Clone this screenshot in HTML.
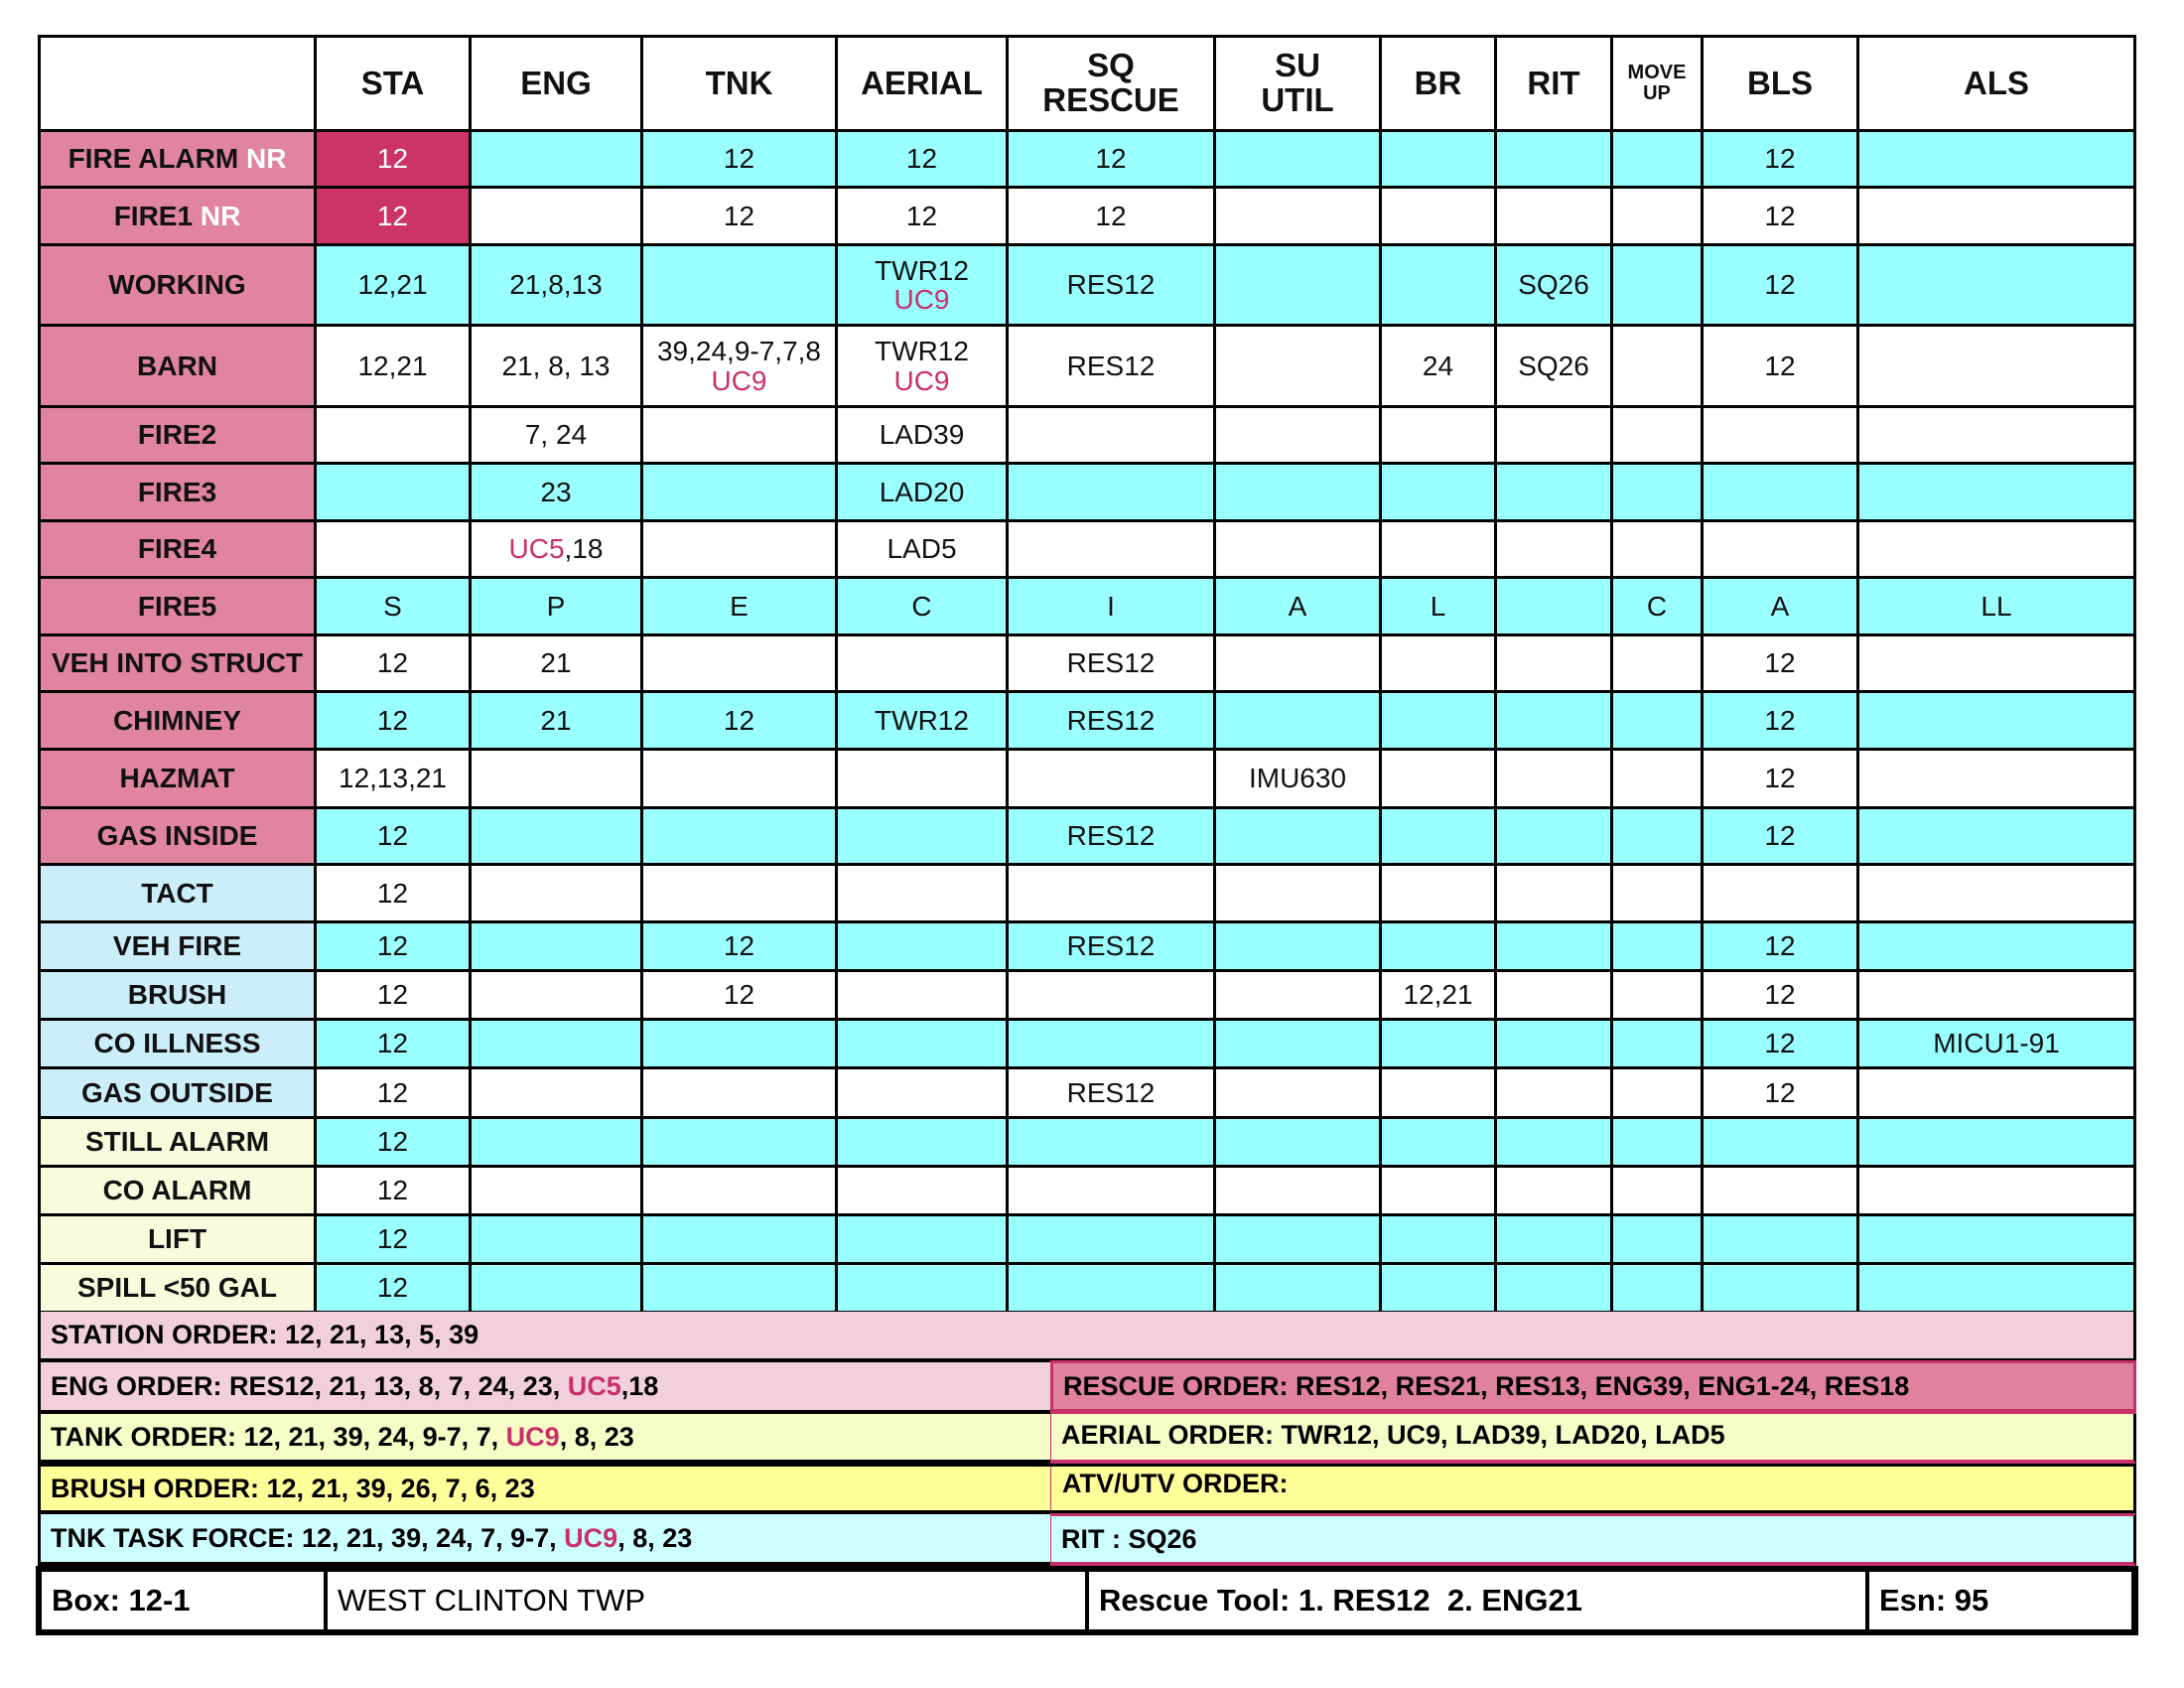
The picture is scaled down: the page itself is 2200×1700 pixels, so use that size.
<!DOCTYPE html>
<html><head><meta charset="utf-8"><style>
body{margin:0;width:2200px;height:1700px;background:#fff;position:relative;font-family:"Liberation Sans",Arial,sans-serif;overflow:hidden}
.g{position:absolute;left:38px;top:35px;display:grid;background:#000;border:3px solid #000;gap:3px;
grid-template-columns:275px 153px 170px 193px 169px 206px 164px 113px 114px 88px 154px 276px;
grid-template-rows:92px 54px 55px 78px 79px 54px 55px 54px 55px 54px 55px 56px 54px 55px 46px 46px 46px 47px 46px 46px 46px 46px;}
.g div{background:#fff;display:flex;align-items:center;justify-content:center;text-align:center;font-size:28px;line-height:1.05;color:#111}
.g div p{margin:0}
.g .h{font-weight:bold;font-size:33px}
.g .c{background:#99ffff}
.g .l{background:#e0849f;font-weight:bold}
.g .b{background:#cceefa;font-weight:bold}
.g .y{background:#fafadc;font-weight:bold}
.g .r{background:#cc3366;color:#fff}
.w{color:#fff}.m{color:#c8306a}
.s{position:absolute;box-sizing:border-box;font-weight:bold;font-size:27px;padding-left:10px;display:flex;align-items:center}
.f{position:absolute;top:1583px;height:58px;background:#fff;font-size:31px;display:flex;align-items:center;padding-left:10px;box-sizing:border-box}
</style></head><body>
<div class="g">
<div></div><div class="h">STA</div><div class="h">ENG</div><div class="h">TNK</div><div class="h">AERIAL</div><div class="h"><p>SQ<br>RESCUE</p></div><div class="h"><p>SU<br>UTIL</p></div><div class="h">BR</div><div class="h">RIT</div><div class="h" style="font-size:20px"><p>MOVE<br>UP</p></div><div class="h">BLS</div><div class="h">ALS</div>

<div class="l"><p>FIRE ALARM <span class="w">NR</span></p></div><div class="r">12</div><div class="c"></div><div class="c">12</div><div class="c">12</div><div class="c">12</div><div class="c"></div><div class="c"></div><div class="c"></div><div class="c"></div><div class="c">12</div><div class="c"></div>

<div class="l"><p>FIRE1 <span class="w">NR</span></p></div><div class="r">12</div><div></div><div>12</div><div>12</div><div>12</div><div></div><div></div><div></div><div></div><div>12</div><div></div>

<div class="l">WORKING</div><div class="c">12,21</div><div class="c">21,8,13</div><div class="c"></div><div class="c"><p>TWR12<br><span class="m">UC9</span></p></div><div class="c">RES12</div><div class="c"></div><div class="c"></div><div class="c">SQ26</div><div class="c"></div><div class="c">12</div><div class="c"></div>

<div class="l">BARN</div><div>12,21</div><div>21, 8, 13</div><div><p style="white-space:nowrap">39,24,9-7,7,8<br><span class="m">UC9</span></p></div><div><p>TWR12<br><span class="m">UC9</span></p></div><div>RES12</div><div></div><div>24</div><div>SQ26</div><div></div><div>12</div><div></div>

<div class="l">FIRE2</div><div></div><div>7, 24</div><div></div><div>LAD39</div><div></div><div></div><div></div><div></div><div></div><div></div><div></div>

<div class="l">FIRE3</div><div class="c"></div><div class="c">23</div><div class="c"></div><div class="c">LAD20</div><div class="c"></div><div class="c"></div><div class="c"></div><div class="c"></div><div class="c"></div><div class="c"></div><div class="c"></div>

<div class="l">FIRE4</div><div></div><div><p><span class="m">UC5</span>,18</p></div><div></div><div>LAD5</div><div></div><div></div><div></div><div></div><div></div><div></div><div></div>

<div class="l">FIRE5</div><div class="c">S</div><div class="c">P</div><div class="c">E</div><div class="c">C</div><div class="c">I</div><div class="c">A</div><div class="c">L</div><div class="c"></div><div class="c">C</div><div class="c">A</div><div class="c">LL</div>

<div class="l">VEH INTO STRUCT</div><div>12</div><div>21</div><div></div><div></div><div>RES12</div><div></div><div></div><div></div><div></div><div>12</div><div></div>

<div class="l">CHIMNEY</div><div class="c">12</div><div class="c">21</div><div class="c">12</div><div class="c">TWR12</div><div class="c">RES12</div><div class="c"></div><div class="c"></div><div class="c"></div><div class="c"></div><div class="c">12</div><div class="c"></div>

<div class="l">HAZMAT</div><div>12,13,21</div><div></div><div></div><div></div><div></div><div>IMU630</div><div></div><div></div><div></div><div>12</div><div></div>

<div class="l">GAS INSIDE</div><div class="c">12</div><div class="c"></div><div class="c"></div><div class="c"></div><div class="c">RES12</div><div class="c"></div><div class="c"></div><div class="c"></div><div class="c"></div><div class="c">12</div><div class="c"></div>

<div class="b">TACT</div><div>12</div><div></div><div></div><div></div><div></div><div></div><div></div><div></div><div></div><div></div><div></div>

<div class="b">VEH FIRE</div><div class="c">12</div><div class="c"></div><div class="c">12</div><div class="c"></div><div class="c">RES12</div><div class="c"></div><div class="c"></div><div class="c"></div><div class="c"></div><div class="c">12</div><div class="c"></div>

<div class="b">BRUSH</div><div>12</div><div></div><div>12</div><div></div><div></div><div></div><div>12,21</div><div></div><div></div><div>12</div><div></div>

<div class="b">CO ILLNESS</div><div class="c">12</div><div class="c"></div><div class="c"></div><div class="c"></div><div class="c"></div><div class="c"></div><div class="c"></div><div class="c"></div><div class="c"></div><div class="c">12</div><div class="c">MICU1-91</div>

<div class="b">GAS OUTSIDE</div><div>12</div><div></div><div></div><div></div><div>RES12</div><div></div><div></div><div></div><div></div><div>12</div><div></div>

<div class="y">STILL ALARM</div><div class="c">12</div><div class="c"></div><div class="c"></div><div class="c"></div><div class="c"></div><div class="c"></div><div class="c"></div><div class="c"></div><div class="c"></div><div class="c"></div><div class="c"></div>

<div class="y">CO ALARM</div><div>12</div><div></div><div></div><div></div><div></div><div></div><div></div><div></div><div></div><div></div><div></div>

<div class="y">LIFT</div><div class="c">12</div><div class="c"></div><div class="c"></div><div class="c"></div><div class="c"></div><div class="c"></div><div class="c"></div><div class="c"></div><div class="c"></div><div class="c"></div><div class="c"></div>

<div class="y">SPILL &lt;50 GAL</div><div class="c">12</div><div class="c"></div><div class="c"></div><div class="c"></div><div class="c"></div><div class="c"></div><div class="c"></div><div class="c"></div><div class="c"></div><div class="c"></div><div class="c"></div>
</div>

<div class="s" style="left:38px;top:1321px;width:2114px;height:51px;background:#f2cfdc;border-left:3px solid #000;border-right:3px solid #000;border-bottom:4px solid #000">STATION ORDER: 12, 21, 13, 5, 39</div>

<div class="s" style="left:38px;top:1372px;width:1020px;height:52px;background:#f2cfdc;border-left:3px solid #000;border-bottom:4px solid #000">ENG ORDER: RES12, 21, 13, 8, 7, 24, 23,&nbsp;<span class="m">UC5</span>,18</div>
<div class="s" style="left:1058px;top:1370px;width:1094px;height:54px;background:#e0819e;border:3px solid #c8306a;border-bottom:5px solid #c8306a">RESCUE ORDER: RES12, RES21, RES13, ENG39, ENG1-24, RES18</div>

<div class="s" style="left:38px;top:1424px;width:1020px;height:50px;background:#f6fdc6;border-left:3px solid #000;border-bottom:4px solid #000">TANK ORDER: 12, 21, 39, 24, 9-7, 7,&nbsp;<span class="m">UC9</span>, 8, 23</div>
<div class="s" style="left:1058px;top:1424px;width:1094px;height:50px;background:#f6fdc6;border-left:1px solid #c8306a;border-right:3px solid #000;border-bottom:4px solid #c8306a;align-items:flex-start;padding-top:6px">AERIAL ORDER: TWR12, UC9, LAD39, LAD20, LAD5</div>

<div class="s" style="left:38px;top:1474px;width:2114px;height:51px;background:#ffff99;border-left:3px solid #000;border-right:3px solid #000;border-top:3px solid #000;border-bottom:4px solid #000">BRUSH ORDER: 12, 21, 39, 26, 7, 6, 23</div>
<div class="s" style="left:1058px;top:1477px;width:1px;height:44px;background:#c8306a;padding:0"></div>
<div class="s" style="left:1060px;top:1477px;width:400px;height:44px;align-items:flex-start;padding-top:2px">ATV/UTV ORDER:</div>

<div class="s" style="left:38px;top:1525px;width:1020px;height:52px;background:#ccffff;border-left:3px solid #000;border-bottom:4px solid #000">TNK TASK FORCE: 12, 21, 39, 24, 7, 9-7,&nbsp;<span class="m">UC9</span>, 8, 23</div>
<div class="s" style="left:1058px;top:1524px;width:1094px;height:53px;background:#ccffff;border-left:1px solid #c8306a;border-right:3px solid #000;border-top:3px solid #c8306a;border-bottom:4px solid #c8306a">RIT : SQ26</div>

<div style="position:absolute;left:36px;top:1577px;width:2118px;height:70px;background:#000"></div>
<div class="f" style="left:42px;width:284px;font-weight:bold">Box: 12-1</div>
<div class="f" style="left:330px;width:763px">WEST CLINTON TWP</div>
<div class="f" style="left:1097px;width:782px;font-weight:bold">Rescue Tool: 1. RES12&nbsp; 2. ENG21</div>
<div class="f" style="left:1883px;width:264px;font-weight:bold">Esn: 95</div>
</body></html>
